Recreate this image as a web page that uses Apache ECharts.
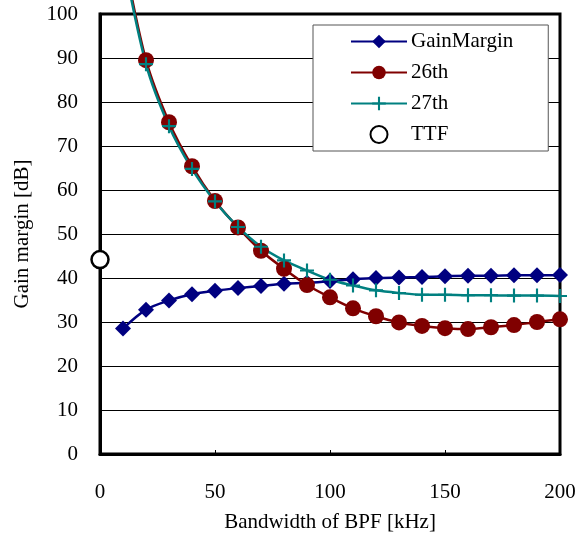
<!DOCTYPE html>
<html>
<head>
<meta charset="utf-8">
<script src="https://cdn.jsdelivr.net/npm/echarts@6/dist/echarts.min.js"></script>
<style>
html,body{margin:0;padding:0;background:#fff;}
#chart{width:581px;height:538px;}
</style>
</head>
<body>
<div id="chart"></div>
<script>
const bandwidth = [10, 20, 30, 40, 50, 60, 70, 80, 90, 100, 110, 120, 130, 140, 150, 160, 170, 180, 190, 200];
const gainMargin = [28.5, 32.8, 34.9, 36.3, 37.1, 37.7, 38.2, 38.7, 38.9, 39.3, 39.7, 40.0, 40.1, 40.2, 40.4, 40.5, 40.5, 40.6, 40.6, 40.7];
const order26 = [114, 89.5, 75.4, 65.4, 57.5, 51.5, 46.2, 42.1, 38.4, 35.6, 33.1, 31.3, 29.9, 29.1, 28.6, 28.4, 28.8, 29.3, 30.0, 30.6];
const order27 = [113, 88.6, 74.5, 64.8, 57.4, 51.6, 47.1, 44.0, 41.7, 39.6, 38.3, 37.2, 36.6, 36.2, 36.2, 36.1, 36.1, 36.0, 36.0, 35.9];
const ttfX = [0];
const ttfY = [44.2];
const seriesNames = ['GainMargin', '26th', '27th', 'TTF'];
const xTicks = [0, 50, 100, 150, 200];
const yTicks = [0, 10, 20, 30, 40, 50, 60, 70, 80, 90, 100];

const pairs = (xs, ys) => xs.map((x, i) => [x, ys[i]]);
const FONT = '"Liberation Serif", "Times New Roman", serif';
const plusPath = 'path://M5.5,0h2v5.5h5.5v2h-5.5v5.5h-2v-5.5h-5.5v-2h5.5z';

const chart = echarts.init(document.getElementById('chart'), null, {renderer: 'canvas'});
chart.setOption({
  animation: false,
  backgroundColor: '#fff',
  textStyle: {fontFamily: FONT, color: '#000'},
  grid: {left: 100, right: 21, top: 14, bottom: 79, show: true, borderColor: '#000', borderWidth: 3, backgroundColor: 'transparent', containLabel: false},
  legend: {
    orient: 'vertical', left: 313, top: 25,
    padding: [6, 35, 6, 37],
    itemWidth: 56, itemHeight: 17, itemGap: 10,
    backgroundColor: '#fff', borderColor: '#555', borderWidth: 1, borderRadius: 0,
    selectedMode: false,
    textStyle: {fontFamily: FONT, fontSize: 21, color: '#000', lineHeight: 21, padding: [0, 0, 0, -1]},
    data: seriesNames
  },
  xAxis: {
    type: 'value', min: xTicks[0], max: xTicks[xTicks.length - 1], interval: 50,
    name: 'Bandwidth of BPF [kHz]', nameLocation: 'middle', nameGap: 58,
    nameTextStyle: {fontFamily: FONT, fontSize: 21, color: '#000'},
    axisLine: {show: true, lineStyle: {color: '#000', width: 3}},
    axisTick: {show: true, inside: true, length: 4, lineStyle: {color: '#000', width: 1}},
    axisLabel: {fontFamily: FONT, fontSize: 21, color: '#000', margin: 28},
    splitLine: {show: false}
  },
  yAxis: {
    type: 'value', min: yTicks[0], max: yTicks[yTicks.length - 1], interval: 10,
    name: 'Gain margin [dB]', nameLocation: 'middle', nameGap: 67,
    nameTextStyle: {fontFamily: FONT, fontSize: 21, color: '#000'},
    axisLine: {show: true, lineStyle: {color: '#000', width: 3}},
    axisTick: {show: false},
    axisLabel: {fontFamily: FONT, fontSize: 21, color: '#000', margin: 22},
    splitLine: {show: true, lineStyle: {color: '#000', width: 1}}
  },
  series: [
    {
      name: seriesNames[0], type: 'line', data: pairs(bandwidth, gainMargin),
      smooth: 0.3, symbol: 'diamond', symbolSize: 16,
      lineStyle: {color: '#000080', width: 2.5}, itemStyle: {color: '#000080'}
    },
    {
      name: seriesNames[1], type: 'line', data: pairs(bandwidth, order26), clip: false,
      smooth: 0.3, symbol: 'circle', symbolSize: 16,
      lineStyle: {color: '#800000', width: 2.5}, itemStyle: {color: '#800000'}
    },
    {
      name: seriesNames[2], type: 'line', data: pairs(bandwidth, order27), clip: false,
      smooth: 0.3, symbol: plusPath, symbolSize: 14,
      lineStyle: {color: '#008080', width: 2.5}, itemStyle: {color: '#008080'}
    },
    {
      name: seriesNames[3], type: 'scatter', data: pairs(ttfX, ttfY), clip: false,
      symbol: 'circle', symbolSize: 17,
      itemStyle: {color: '#fff', borderColor: '#000', borderWidth: 2.5, opacity: 1}
    }
  ]
});
</script>
</body>
</html>
